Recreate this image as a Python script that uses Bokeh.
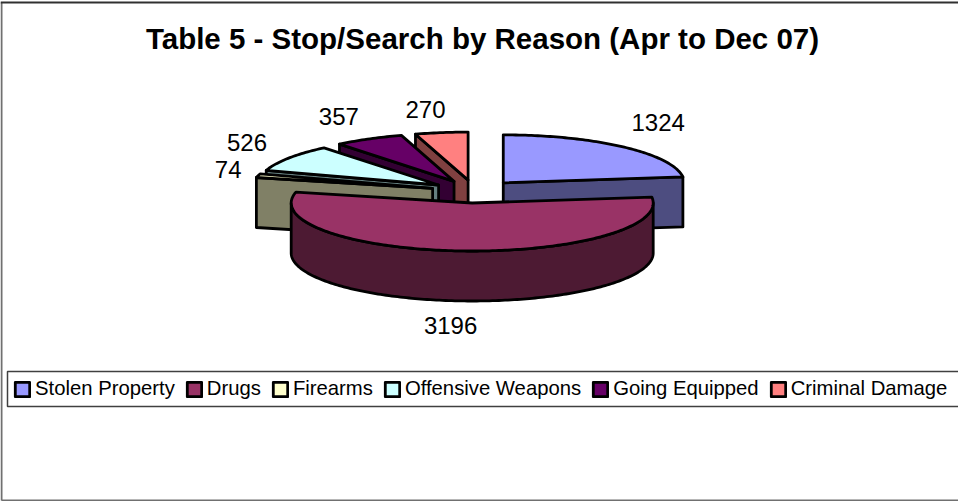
import numpy as np
from bokeh.plotting import figure
from bokeh.models import Range1d, Legend, LegendItem, Label
from bokeh.embed import file_html
from bokeh.resources import INLINE

categories = ["Stolen Property", "Drugs", "Firearms", "Offensive Weapons", "Going Equipped", "Criminal Damage"]
values = [1324, 3196, 74, 526, 357, 270]
top_colors = ["#9999FF", "#993366", "#FFFFCC", "#CCFFFF", "#660066", "#FF8080"]
side_colors = ["#4D4D80", "#4D1A33", "#808066", "#668080", "#330033", "#804040"]
title_text = "Table 5 - Stop/Search by Reason (Apr to Dec 07)"

# 3-D projection of the pie, in page pixels
CX, CY, RX, RY, DEPTH, EXPLODE = 474.0, 191.0, 181.0, 48.0, 50.0, 0.24
label_offsets = [(35, -24), (-12, 25), (-30, -6), (-42, -16), (-30, -22), (-16, -23)]

p = figure(width=958, height=501, output_backend="svg", toolbar_location=None,
           x_range=Range1d(0, 958), y_range=Range1d(501, 0),
           min_border=0, margin=0)
p.axis.visible = False
p.grid.visible = False
p.outline_line_color = None
p.background_fill_color = "white"

# outer frame of the chart (its right side runs off the picture)
p.segment(x0=[1], y0=[2], x1=[1], y1=[500], line_color="#707070", line_width=2)
p.segment(x0=[1], y0=[500], x1=[960], y1=[500], line_color="#707070", line_width=2)
p.segment(x0=[0], y0=[2], x1=[960], y1=[2], line_color="#303030", line_width=2)
# legend box, also running off the right edge
p.quad(left=[7], right=[965], top=[371], bottom=[406], fill_color="white",
       line_color="#404040", line_width=1.5)

total = sum(values)
edges = np.concatenate([[0], np.cumsum(values)]) / total * 360.0
LW = 2.8


def arc(x0, y0, a0, a1, dy=0.0):
    n = max(2, int(abs(a1 - a0)) + 2)
    t = np.radians(np.linspace(a0, a1, n))
    return x0 + RX * np.sin(t), y0 - RY * np.cos(t) + dy


def slice_apex(i):
    mid = np.radians((edges[i] + edges[i + 1]) / 2)
    return CX + EXPLODE * RX * np.sin(mid), CY - EXPLODE * RY * np.cos(mid)


def draw_face(x0, y0, a, color):
    ox, oy = arc(x0, y0, a, a)
    xs = [ox[0], x0, x0, ox[0]]
    ys = [oy[0], y0, y0 + DEPTH, oy[0] + DEPTH]
    p.patch(xs, ys, fill_color=color, line_color="black", line_width=LW, line_join="round")


tops = {}
for i in [5, 4, 3, 2, 0, 1]:
    a0, a1 = edges[i], edges[i + 1]
    x0, y0 = slice_apex(i)
    if 180 < a0 < 360:
        draw_face(x0, y0, a0, side_colors[i])
    if 0 < a1 < 180:
        draw_face(x0, y0, a1, side_colors[i])
    r0, r1 = max(a0, 90), min(a1, 270)
    if r1 > r0:
        tx, ty = arc(x0, y0, r0, r1)
        bx, by = arc(x0, y0, r1, r0, DEPTH)
        p.patch(np.concatenate([tx, bx]), np.concatenate([ty, by]), fill_color=side_colors[i],
                line_color="black", line_width=LW, line_join="round")
    ax, ay = arc(x0, y0, a0, a1)
    tops[i] = p.patch(np.concatenate([[x0], ax]), np.concatenate([[y0], ay]), fill_color=top_colors[i],
                      line_color="black", line_width=LW, line_join="round")

# data labels
for i, v in enumerate(values):
    x0, y0 = slice_apex(i)
    mid = (edges[i] + edges[i + 1]) / 2
    ox, oy = arc(x0, y0, mid, mid)
    extra = DEPTH if 90 < mid < 270 else 0
    dx, dy = label_offsets[i]
    p.add_layout(Label(x=ox[0] + dx, y=oy[0] + extra + dy, text=str(v), text_align="center",
                       text_baseline="middle", text_font="Liberation Sans",
                       text_font_size="24px", text_color="black"))

p.add_layout(Label(x=482, y=38, text=title_text, text_align="center", text_baseline="middle",
                   text_font="Liberation Sans", text_font_style="bold", text_font_size="29.5px",
                   text_color="black"))

legend = Legend(items=[LegendItem(label=c, renderers=[tops[i]]) for i, c in enumerate(categories)],
                orientation="horizontal", location=(13, 101), margin=0, padding=6,
                spacing=10, label_standoff=4, glyph_width=18, glyph_height=18,
                label_text_font="Liberation Sans", label_text_font_size="20.3px",
                label_text_color="black", label_height=23,
                border_line_color=None, background_fill_alpha=0)
p.add_layout(legend, "center")

open("out.html", "w").write(file_html(p, INLINE))
